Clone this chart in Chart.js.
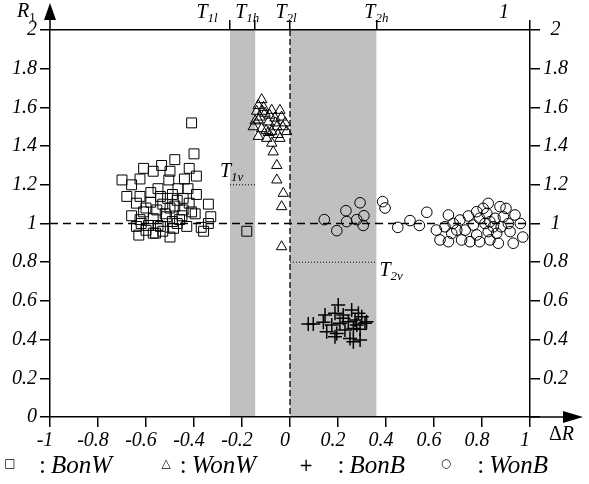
<!DOCTYPE html>
<html>
<head>
<meta charset="utf-8">
<script src="https://cdn.jsdelivr.net/npm/chart.js@4"></script>
<style>
  body { margin: 0; background: #fff; }
  #wrap { width: 589px; height: 484px; }
</style>
</head>
<body>
<div id="wrap"><canvas id="c" width="589" height="484"></canvas></div>
<script>
// tick values
const xTicks = [-1, -0.8, -0.6, -0.4, -0.2, 0, 0.2, 0.4, 0.6, 0.8, 1];
const yTicks = [0, 0.2, 0.4, 0.6, 0.8, 1, 1.2, 1.4, 1.6, 1.8, 2];
// thresholds on the top axis
const topTicks = [-0.25, -0.145, 0, 0.36, 1];
const topLabels = [['T', '1l'], ['T', '1h'], ['T', '2l'], ['T', '2h'], ['1', '']];
const t1v = 1.2, t2v = 0.8;
const seriesNames = ['BonW', 'WonW', 'BonB', 'WonB'];

// BonW (squares)
const bonwX = [-0.41, -0.40, -0.48, -0.535, -0.61, -0.42, -0.57, -0.50, -0.70, -0.625, -0.505, -0.44, -0.39,
  -0.55, -0.467, -0.425, -0.68, -0.625, -0.54, -0.49, -0.445, -0.39, -0.64, -0.58, -0.53, -0.47, -0.42, -0.34,
  -0.66, -0.61, -0.555, -0.50, -0.445, -0.395, -0.33, -0.625, -0.57, -0.515, -0.46, -0.34, -0.64, -0.59, -0.54,
  -0.485, -0.43, -0.63, -0.56, -0.50, -0.36, -0.60, -0.18,
  -0.52, -0.60, -0.47, -0.55, -0.45, -0.58, -0.51, -0.62, -0.48, -0.53, -0.41, -0.66, -0.57, -0.49, -0.37];
const bonwY = [1.52, 1.36, 1.33, 1.30, 1.285, 1.285, 1.27, 1.27, 1.225, 1.23, 1.225, 1.23, 1.245,
  1.18, 1.18, 1.18, 1.14, 1.14, 1.14, 1.15, 1.13, 1.15, 1.105, 1.11, 1.10, 1.12, 1.105, 1.10,
  1.04, 1.06, 1.07, 1.08, 1.07, 1.05, 1.035, 1.02, 1.025, 1.035, 1.02, 1.00, 0.985, 0.99, 0.985,
  0.975, 0.985, 0.94, 0.95, 0.93, 0.96, 0.965, 0.96,
  1.05, 1.08, 1.00, 0.99, 1.04, 1.16, 1.13, 1.00, 1.09, 0.96, 1.06, 1.20, 0.95, 1.01, 0.98];

// WonW (triangles)
const wonwX = [-0.118, -0.132, -0.076, -0.042, -0.139, -0.104, -0.035, -0.0625, -0.132, -0.09, -0.02, -0.153,
  -0.118, -0.055, -0.076, -0.014, -0.132, -0.097, -0.042, -0.076, -0.07, -0.055, -0.055, -0.028, -0.035, -0.035,
  -0.11, -0.085, -0.06, -0.125, -0.10, -0.05, -0.145, -0.03, -0.09, -0.115];
const wonwY = [1.64, 1.61, 1.585, 1.585, 1.58, 1.57, 1.55, 1.545, 1.535, 1.525, 1.52, 1.50,
  1.49, 1.50, 1.475, 1.475, 1.45, 1.44, 1.44, 1.415, 1.37, 1.30, 1.225, 1.156, 1.087, 0.88,
  1.60, 1.56, 1.52, 1.55, 1.48, 1.46, 1.53, 1.50, 1.47, 1.58];

// BonB (crosses)
const bonbX = [0.076, 0.097, 0.139, 0.146, 0.201, 0.1875, 0.222, 0.257, 0.285, 0.299, 0.174, 0.208, 0.243,
  0.271, 0.3125, 0.153, 0.195, 0.229, 0.264, 0.292, 0.1875, 0.25, 0.264, 0.292, 0.319, 0.222, 0.278];
const bonbY = [0.48, 0.48, 0.49, 0.527, 0.579, 0.536, 0.527, 0.553, 0.536, 0.518, 0.475, 0.484, 0.492,
  0.501, 0.484, 0.44, 0.432, 0.45, 0.458, 0.453, 0.415, 0.406, 0.389, 0.398, 0.492, 0.51, 0.475];

// WonB (circles)
const wonbX = [0.143, 0.195, 0.233, 0.236, 0.278, 0.292, 0.308, 0.305, 0.386, 0.396, 0.449, 0.50, 0.539, 0.57,
  0.61, 0.625, 0.66, 0.646, 0.68, 0.674, 0.66, 0.708, 0.715, 0.743, 0.764, 0.778, 0.79, 0.805, 0.826, 0.8125,
  0.833, 0.847, 0.826, 0.861, 0.833, 0.868, 0.79, 0.778, 0.875, 0.90, 0.889, 0.91, 0.9375, 0.917, 0.93, 0.88,
  0.854, 0.75, 0.695, 0.73, 0.82, 0.96, 0.97];
const wonbY = [1.02, 0.963, 1.066, 1.01, 1.02, 1.107, 1.04, 0.99, 1.113, 1.08, 0.98, 1.015, 0.99, 1.058,
  0.966, 0.915, 1.044, 0.983, 1.0, 0.949, 0.906, 1.018, 0.915, 1.039, 0.992, 1.061, 1.027, 1.078, 1.104, 1.0,
  1.009, 0.983, 0.958, 0.949, 0.915, 0.898, 0.906, 0.941, 1.087, 1.078, 1.035, 1.0, 1.044, 0.958, 0.898, 0.983,
  1.027, 0.906, 0.966, 0.966, 1.052, 1.0, 0.93];

const pts = (xs, ys) => xs.map((v, i) => ({ x: v, y: ys[i] }));

const SERIF = "'Liberation Serif', 'Times New Roman', serif";
Chart.defaults.font.family = 'Liberation Serif';
Chart.defaults.font.style = 'italic';
Chart.defaults.font.size = 20;
Chart.defaults.color = '#000';
const tickFont = { family: 'Liberation Serif', style: 'italic', size: 20 };

function setTicks(vals) {
  return function (scale) { scale.ticks = vals.map(v => ({ value: v })); };
}

// text with a small subscript
function subText(ctx, x, y, main, sub, align, subStyle) {
  ctx.font = 'italic 20px ' + SERIF;
  const w1 = ctx.measureText(main).width;
  const sf = (subStyle || 'italic') + ' 13px ' + SERIF;
  ctx.font = sf;
  const w2 = ctx.measureText(sub).width;
  let left = x;
  if (align === 'center') left = x - (w1 + w2) / 2;
  ctx.textAlign = 'left';
  ctx.textBaseline = 'alphabetic';
  ctx.font = 'italic 20px ' + SERIF;
  ctx.fillText(main, left, y);
  ctx.font = sf;
  ctx.fillText(sub, left + w1, y + 4);
}

const overlay = {
  id: 'overlay',
  beforeDraw(chart) {
    const { ctx, chartArea: a, scales: { x } } = chart;
    ctx.save();
    ctx.fillStyle = '#c0c0c0';
    [[topTicks[0], topTicks[1]], [topTicks[2], topTicks[3]]].forEach(([lo, hi]) => {
      const l = x.getPixelForValue(lo), r = x.getPixelForValue(hi);
      ctx.fillRect(l, a.top, r - l, a.bottom - a.top);
    });
    ctx.restore();
  },
  beforeDatasetsDraw(chart) {
    const { ctx, chartArea: a, scales: { x, y } } = chart;
    ctx.save();
    ctx.strokeStyle = '#000';
    ctx.lineWidth = 1.3;
    ctx.setLineDash([8, 5]);
    const y1 = y.getPixelForValue(1);
    ctx.beginPath(); ctx.moveTo(a.left, y1); ctx.lineTo(a.right, y1); ctx.stroke();
    ctx.setLineDash([6, 3]);
    const x0 = x.getPixelForValue(0);
    ctx.beginPath(); ctx.moveTo(x0, a.top); ctx.lineTo(x0, a.bottom); ctx.stroke();
    // dotted thresholds
    ctx.setLineDash([1, 2]);
    ctx.lineWidth = 1;
    let yy = y.getPixelForValue(t1v);
    ctx.beginPath(); ctx.moveTo(x.getPixelForValue(topTicks[0]), yy); ctx.lineTo(x.getPixelForValue(topTicks[1]), yy); ctx.stroke();
    yy = y.getPixelForValue(t2v);
    ctx.beginPath(); ctx.moveTo(x.getPixelForValue(topTicks[2]), yy); ctx.lineTo(x.getPixelForValue(topTicks[3]), yy); ctx.stroke();
    ctx.restore();
  },
  afterDraw(chart) {
    const { ctx, chartArea: a, scales: { x } } = chart;
    ctx.save();
    ctx.fillStyle = '#000';
    ctx.strokeStyle = '#000';
    ctx.lineWidth = 1.5;
    // y arrow
    ctx.beginPath(); ctx.moveTo(a.left, a.top); ctx.lineTo(a.left, 18); ctx.stroke();
    ctx.beginPath(); ctx.moveTo(a.left, 3); ctx.lineTo(a.left - 6, 20); ctx.lineTo(a.left + 6, 20); ctx.closePath(); ctx.fill();
    // x arrow
    ctx.beginPath(); ctx.moveTo(a.right, a.bottom); ctx.lineTo(566, a.bottom); ctx.stroke();
    ctx.beginPath(); ctx.moveTo(583, a.bottom); ctx.lineTo(563, a.bottom - 6); ctx.lineTo(563, a.bottom + 6); ctx.closePath(); ctx.fill();

    // axis titles
    subText(ctx, 17, 17, 'R', '1', null, 'normal');
    ctx.font = '20px ' + SERIF;
    ctx.textAlign = 'left';
    ctx.fillText('\u0394', 549, 440);
    const wd = ctx.measureText('\u0394').width;
    ctx.font = 'italic 20px ' + SERIF;
    ctx.fillText('R', 549 + wd, 440);

    // top threshold labels
    const shift = [-23, -8, -4, 0, -26];
    topTicks.forEach((v, i) => {
      subText(ctx, x.getPixelForValue(v) + shift[i], 18, topLabels[i][0], topLabels[i][1], 'center');
    });
    subText(ctx, x.getPixelForValue(topTicks[0]) - 10, 177, 'T', '1v');
    subText(ctx, x.getPixelForValue(topTicks[3]) + 3, 276, 'T', '2v');

    // legend
    const syms = ['\u25A1', '\u25B3', '+', '\u25CB'];
    const symX = [10, 166, 306, 446];
    const ends = [112, 256, 405, 548];
    seriesNames.forEach((name, i) => {
      ctx.font = 'italic 25px ' + SERIF;
      ctx.textAlign = 'right';
      ctx.fillText(name, ends[i], 473);
      const wn = ctx.measureText(name).width;
      ctx.font = '25px ' + SERIF;
      ctx.fillText(':', ends[i] - wn - 5, 473);
      ctx.textAlign = 'center';
      ctx.font = (i === 2 ? '17px' : '12px') + ' "DejaVu Sans"';
      ctx.fillText(syms[i], symX[i], i === 2 ? 471 : 467);
    });
    ctx.restore();
  }
};

const gridOpts = { drawOnChartArea: false, drawTicks: true, tickLength: 10, color: '#000', lineWidth: 1.5 };
const borderOpts = { display: true, color: '#000', width: 1.5 };
const fmt = v => String(v);

function build() {
  return new Chart(document.getElementById('c'), {
    type: 'scatter',
    data: {
      datasets: [
        { label: seriesNames[0], data: pts(bonwX, bonwY), pointStyle: 'rect', pointRadius: 7, borderColor: '#000', backgroundColor: 'rgba(0,0,0,0)', borderWidth: 1 },
        { label: seriesNames[1], data: pts(wonwX, wonwY), pointStyle: 'triangle', pointRadius: 6, borderColor: '#000', backgroundColor: 'rgba(0,0,0,0)', borderWidth: 1 },
        { label: seriesNames[2], data: pts(bonbX, bonbY), pointStyle: 'cross', pointRadius: 7, borderColor: '#000', backgroundColor: 'rgba(0,0,0,0)', borderWidth: 1.5 },
        { label: seriesNames[3], data: pts(wonbX, wonbY), pointStyle: 'circle', pointRadius: 5.3, borderColor: '#000', backgroundColor: 'rgba(0,0,0,0)', borderWidth: 1 }
      ]
    },
    options: {
      responsive: false,
      animation: false,
      layout: { padding: 0 },
      plugins: { legend: { display: false }, tooltip: { enabled: false } },
      scales: {
        x: {
          type: 'linear', position: 'bottom', min: -1, max: 1,
          afterBuildTicks: setTicks(xTicks),
          afterFit: s => { s.height = 67; },
          grid: gridOpts, border: borderOpts,
          ticks: { color: '#000', font: tickFont, padding: 2, labelOffset: -5, maxRotation: 0, autoSkip: false, callback: fmt }
        },
        x2: {
          type: 'linear', position: 'top', min: -1, max: 1,
          afterBuildTicks: setTicks(topTicks),
          afterFit: s => { s.height = 30; },
          grid: gridOpts, border: borderOpts,
          ticks: { display: false }
        },
        y: {
          type: 'linear', position: 'left', min: 0, max: 2,
          afterBuildTicks: setTicks(yTicks),
          afterFit: s => { s.width = 50; },
          grid: gridOpts, border: borderOpts,
          ticks: { color: '#000', font: tickFont, padding: 3, autoSkip: false, callback: fmt }
        },
        y2: {
          type: 'linear', position: 'right', min: 0, max: 2,
          afterBuildTicks: setTicks(yTicks),
          afterFit: s => { s.width = 59; },
          grid: gridOpts, border: borderOpts,
          ticks: { color: '#000', font: tickFont, padding: 3, crossAlign: 'center', autoSkip: false,
            callback: v => (v === 0 ? '' : String(v)) }
        }
      }
    },
    plugins: [overlay]
  });
}

// make sure the italic serif face is ready before the axes are measured
if (document.fonts && document.fonts.load) {
  document.fonts.load('italic 20px "Liberation Serif"').then(build, build);
} else {
  build();
}
</script>
</body>
</html>
